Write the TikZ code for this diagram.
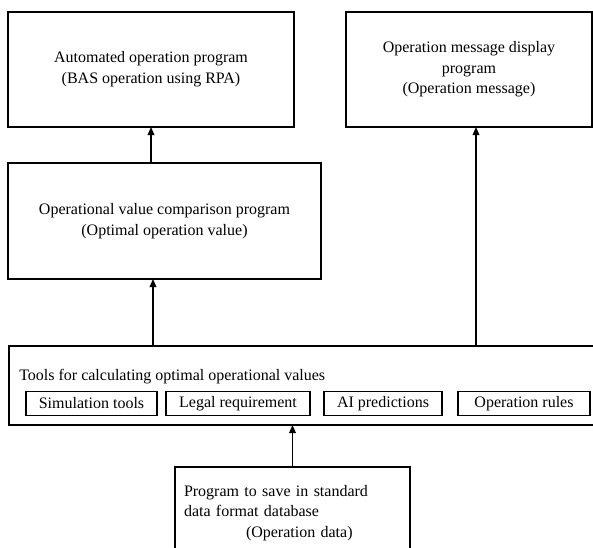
\documentclass[tikz,border=0pt]{standalone}
\usepackage{fontspec}
\setmainfont{Liberation Serif}
\usepackage{tikz}
\usetikzlibrary{arrows.meta,%
                positioning}

\begin{document}
\begin{tikzpicture}[x=0.75pt, y=-0.75pt]
  \clip (0,0) rectangle (593,547);
  \tikzset{BoxStyle/.style = {draw=black, line width=1pt, shape=rectangle, inner sep=0pt, outer sep=0pt, align=center, text=black, font=\fontsize{12}{15.5}\selectfont}}
  \tikzset{ToolStyle/.style = {draw=black, line width=1pt, shape=rectangle, inner sep=0pt, outer sep=0pt, minimum height=18pt, text=black, font=\fontsize{12}{14}\selectfont}}
  \tikzset{EdgeStyle/.style   = {line width=0.9pt, -{Triangle[length=6pt, width=5pt]}, shorten <=0pt, shorten >=0pt}}

  \node(1)[BoxStyle, minimum width=214.5pt, minimum height=86.25pt] at (151,69.5)
    {Automated operation program\\(BAS operation using RPA)};
  \node(2)[BoxStyle, minimum width=184.5pt, minimum height=86.25pt] at (469,69.5)
    {Operation message display\\program\\(Operation message)};
  \node(3)[BoxStyle, minimum width=234.75pt, minimum height=87pt] at (164.5,221)
    {Operational value comparison program\\(Optimal operation value)};
  \node(4)[BoxStyle, minimum width=443.25pt, minimum height=59.25pt] at (304.5,385.5) {};
  \node(5)[anchor=west, inner sep=0pt, font=\fontsize{12}{14}\selectfont] at (19,377)
    {Tools for calculating optimal operational values};
  \node(6)[ToolStyle, minimum width=98.25pt] at (91.5,403.5) {Simulation tools};
  \node(7)[ToolStyle, minimum width=108pt] at (238,403.5) {Legal requirement};
  \node(8)[ToolStyle, minimum width=88.5pt] at (383,403.5) {AI predictions};
  \node(9)[ToolStyle, minimum width=99pt] at (524,403.5) {Operation rules};
  \node(10)[BoxStyle, align=left, text width=162.75pt, inner xsep=6.75pt, minimum height=69pt] at (292.5,513)
    {Program to save in standard\\data format database\\\hspace*{46.5pt}(Operation data)};

     \draw[EdgeStyle](1.south |- 3.north) to (1.south);
     \draw[EdgeStyle](4.north -| 476,0) to (2.south -| 476,0);
     \draw[EdgeStyle](4.north -| 153,0) to (3.south -| 153,0);
     \draw[EdgeStyle](10.north) to (4.south -| 10.north);

\end{tikzpicture}
\end{document}
